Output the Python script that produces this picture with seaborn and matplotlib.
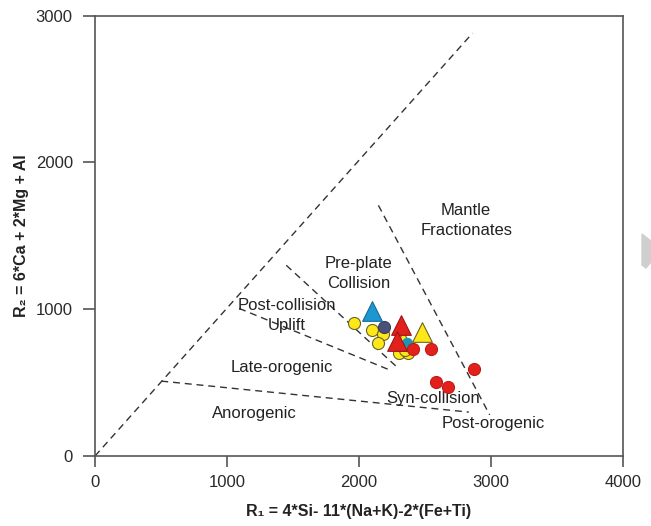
import matplotlib
matplotlib.use('Agg')
import matplotlib.pyplot as plt
from matplotlib.patches import Polygon
import seaborn as sns
import pandas as pd

# sample points
yellow_circle_r1 = [1965, 2096, 2184, 2146, 2306, 2306, 2374, 2345]
yellow_circle_r2 = [909, 857, 828, 767, 744, 699, 703, 725]
red_circle_r1 = [2412, 2545, 2871, 2581, 2677]
red_circle_r2 = [726, 726, 592, 506, 467]
grey_circle_r1 = [2192]
grey_circle_r2 = [880]
teal_circle_r1 = [2361]
teal_circle_r2 = [767]
blue_tri_r1 = [2101]
blue_tri_r2 = [985]
red_tri_r1 = [2318, 2285]
red_tri_r2 = [890, 786]
yellow_tri_r1 = [2480, 2335]
yellow_tri_r2 = [845, 780]

# field boundaries (R1, R2)
boundaries = {
    'outer': ([0, 2860], [0, 2880]),
    'preplate': ([1449, 2298], [1299, 597]),
    'uplift': ([1092, 2235], [1005, 585]),
    'mantle': ([2147, 2990], [1707, 280]),
    'anorogenic': ([502, 2832], [510, 299]),
}

field_labels = ['Mantle\nFractionates', 'Pre-plate\nCollision', 'Post-collision\nUplift',
                'Late-orogenic', 'Anorogenic', 'Syn-collision', 'Post-orogenic']
label_r1 = [2812, 1996, 1456, 1419, 1205, 2561, 3020]
label_r2 = [1605, 1243, 959, 603, 290, 392, 224]

sns.set_style('white')
plt.rcParams['font.family'] = ['Liberation Sans', 'DejaVu Sans']

fig = plt.figure(figsize=(6.51, 5.26), dpi=100)
ax = fig.add_axes([95 / 651, 1 - 456 / 526, 528 / 651, 440.5 / 526])

for name, (xs, ys) in boundaries.items():
    ax.plot(xs, ys, color='#333333', lw=1.0, ls=(0, (5, 3.5)), zorder=1)

def scatter(xs, ys, marker, color, size, edge):
    df = pd.DataFrame({'R1': xs, 'R2': ys})
    sns.scatterplot(data=df, x='R1', y='R2', marker=marker, color=color, s=size,
                    edgecolor=edge, linewidth=0.8, ax=ax, zorder=3, legend=False)

scatter(yellow_circle_r1, yellow_circle_r2, 'o', '#FFE81A', 75, '#6b6420')
scatter(grey_circle_r1, grey_circle_r2, 'o', '#4B5078', 75, '#3a3d5a')
scatter(yellow_tri_r1, yellow_tri_r2, '^', '#FFE81A', 200, '#6b6420')
scatter(teal_circle_r1, teal_circle_r2, 'o', '#1898B8', 55, '#1898B8')
scatter(red_circle_r1, red_circle_r2, 'o', '#E2211C', 75, '#c01a16')
scatter(red_tri_r1, red_tri_r2, '^', '#E2211C', 200, '#a01512')
scatter(blue_tri_r1, blue_tri_r2, '^', '#1E96D2', 200, '#136a96')

for lab, x, y in zip(field_labels, label_r1, label_r2):
    ax.text(x, y, lab, ha='center', va='center', fontsize=12, color='#222222',
            linespacing=1.4, zorder=2)

ax.set_xlim(0, 4000)
ax.set_ylim(0, 3000)
ax.set_xticks([0, 1000, 2000, 3000, 4000])
ax.set_yticks([0, 1000, 2000, 3000])
for sp in ax.spines.values():
    sp.set_color('#555555')
    sp.set_linewidth(1.2)
ax.tick_params(bottom=True, left=True, direction='out', width=1.2, color='#555555',
               labelsize=12, labelcolor='#2a2a2a')
ax.tick_params(axis='x', length=8.2, pad=5.5)
ax.tick_params(axis='y', length=8.5, pad=7.5)
ax.set_xlabel('R\u2081 = 4*Si- 11*(Na+K)-2*(Fe+Ti)', fontsize=11.5, fontweight='bold',
              color='#222222', labelpad=10)
ax.set_ylabel('R\u2082 = 6*Ca + 2*Mg + Al', fontsize=11.5, fontweight='bold',
              color='#222222', labelpad=5)

# grey arrow at the right edge of the page
pts = [(642, 234), (651, 241), (651, 262), (646, 268), (642, 265)]
fig.patches.append(Polygon([(x / 651, 1 - y / 526) for x, y in pts], closed=True,
                           transform=fig.transFigure, color='#cfcfcf', zorder=0))

fig.savefig('out.png', dpi=100)
